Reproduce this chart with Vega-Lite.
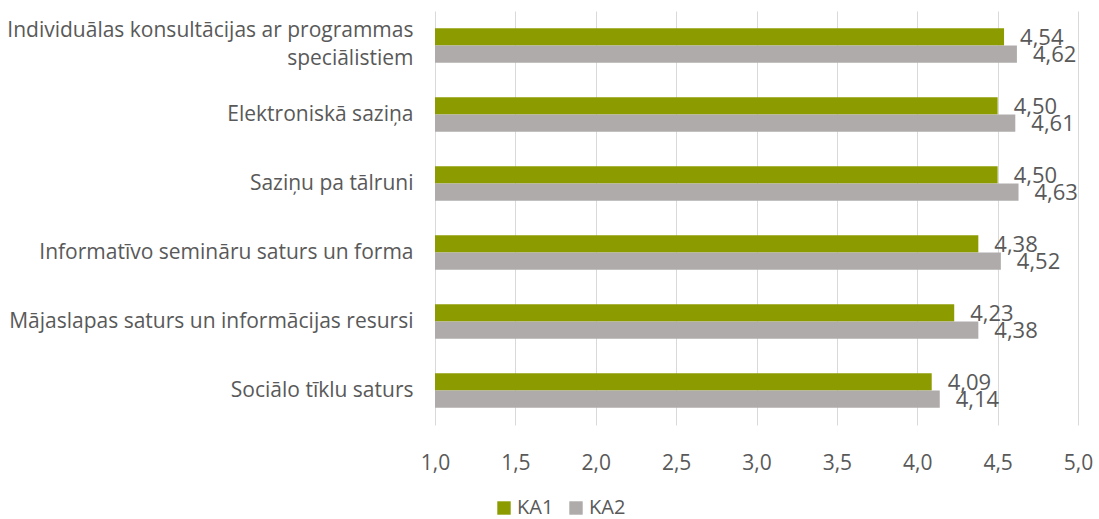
{
  "$schema": "https://vega.github.io/schema/vega-lite/v6.json",
  "width": 643,
  "height": 414,
  "autosize": {"type": "none"},
  "padding": {"left": 435, "top": 11, "right": 21, "bottom": 94},
  "background": "white",
  "data": {
    "values": [
      {"category": "Individuālas konsultācijas ar programmas speciālistiem", "series": "KA1", "value": 4.54},
      {"category": "Individuālas konsultācijas ar programmas speciālistiem", "series": "KA2", "value": 4.62},
      {"category": "Elektroniskā saziņa", "series": "KA1", "value": 4.50},
      {"category": "Elektroniskā saziņa", "series": "KA2", "value": 4.61},
      {"category": "Saziņu pa tālruni", "series": "KA1", "value": 4.50},
      {"category": "Saziņu pa tālruni", "series": "KA2", "value": 4.63},
      {"category": "Informatīvo semināru saturs un forma", "series": "KA1", "value": 4.38},
      {"category": "Informatīvo semināru saturs un forma", "series": "KA2", "value": 4.52},
      {"category": "Mājaslapas saturs un informācijas resursi", "series": "KA1", "value": 4.23},
      {"category": "Mājaslapas saturs un informācijas resursi", "series": "KA2", "value": 4.38},
      {"category": "Sociālo tīklu saturs", "series": "KA1", "value": 4.09},
      {"category": "Sociālo tīklu saturs", "series": "KA2", "value": 4.14}
    ]
  },
  "encoding": {
    "y": {
      "field": "category",
      "type": "nominal",
      "sort": null,
      "title": null,
      "scale": {"paddingInner": 0.5, "paddingOuter": 0.25},
      "axis": {
        "domain": false,
        "ticks": false,
        "grid": false,
        "labelFont": "Open Sans",
        "labelFontSize": 21,
        "labelColor": "#595959",
        "labelPadding": 22,
        "labelLimit": 0,
        "labelLineHeight": 28,
        "labelOffset": {"condition": {"test": "datum.value == 'Individuālas konsultācijas ar programmas speciālistiem'", "value": -15}, "value": 0},
        "labelExpr": "datum.value == 'Individuālas konsultācijas ar programmas speciālistiem' ? ['Individuālas konsultācijas ar programmas', 'speciālistiem'] : datum.value"
      }
    },
    "yOffset": {"field": "series", "type": "nominal", "sort": ["KA1", "KA2"]},
    "x": {
      "field": "value",
      "type": "quantitative",
      "title": null,
      "scale": {"domain": [1, 5], "nice": false, "zero": false},
      "axis": {
        "values": [1, 1.5, 2, 2.5, 3, 3.5, 4, 4.5, 5],
        "format": ".1f",
        "domain": false,
        "ticks": false,
        "grid": true,
        "gridColor": "#d9d9d9",
        "gridWidth": 1,
        "labelFlush": false,
        "labelFont": "Open Sans",
        "labelFontSize": 21,
        "labelColor": "#595959",
        "labelPadding": 27
      }
    }
  },
  "layer": [
    {
      "mark": {"type": "bar"},
      "encoding": {
        "x2": {"datum": 1},
        "color": {
          "field": "series",
          "type": "nominal",
          "title": null,
          "scale": {"domain": ["KA1", "KA2"], "range": ["#8c9c00", "#afabab"]},
          "legend": {
            "orient": "none",
            "legendX": 59,
            "legendY": 487,
            "direction": "horizontal",
            "symbolType": "square",
            "symbolSize": 180,
            "symbolStrokeWidth": 0,
            "labelFont": "Open Sans",
            "labelFontSize": 20,
            "labelColor": "#595959",
            "labelOffset": 3,
            "columnPadding": 12
          }
        }
      }
    },
    {
      "mark": {
        "type": "text",
        "align": "left",
        "baseline": "middle",
        "dx": 16,
        "dy": 1,
        "font": "Open Sans",
        "fontSize": 22,
        "color": "#595959"
      },
      "encoding": {
        "text": {"field": "value", "type": "quantitative", "format": ".2f"}
      }
    }
  ],
  "config": {
    "view": {"stroke": null},
    "locale": {
      "number": {"decimal": ",", "thousands": " ", "grouping": [3], "currency": ["", " €"]}
    }
  }
}
